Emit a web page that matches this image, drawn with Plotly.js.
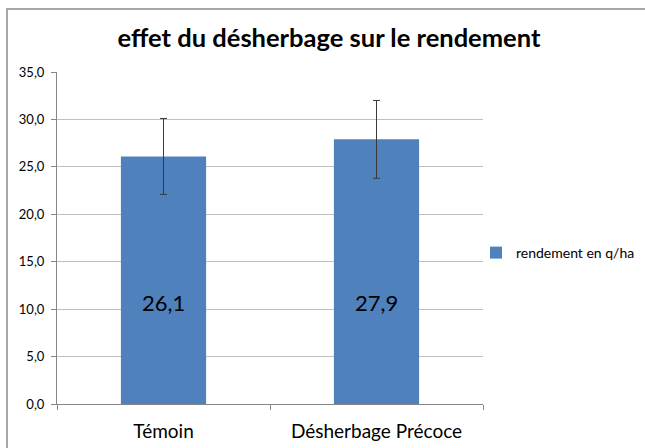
<!DOCTYPE html>
<html>
<head>
<meta charset="utf-8">
<script src="https://cdn.plot.ly/plotly-3.0.1.min.js"></script>
<style>
  html, body { margin: 0; padding: 0; background: #ffffff; }
  #wrap { position: relative; width: 645px; height: 448px; overflow: hidden; }
  #chart { position: absolute; left: 0; top: 0; width: 645px; height: 448px; }
  #frame { position: absolute; left: 6px; top: 8px; width: 700px; height: 500px;
           border-left: 2px solid #a8a8a8; border-top: 2px solid #a8a8a8; pointer-events: none; }
</style>
</head>
<body>
<div id="wrap">
  <div id="chart"></div>
  <div id="frame"></div>
</div>
<script>
// Data
const categories = ["Témoin", "Désherbage Précoce"];
const rendement = [26.1, 27.9];
const erreur = [4.0, 4.1];
const labels = ["26,1", "27,9"];
const seriesName = "rendement en q/ha";
const titleText = "effet du désherbage sur le rendement";

const barTrace = {
  type: "bar",
  x: categories,
  y: rendement,
  name: seriesName,
  marker: { color: "#4f81bd" },
  error_y: { type: "data", array: erreur, visible: true, color: "#3a3a3a", thickness: 1, width: 3.5 },
  hoverinfo: "none"
};

// value labels placed inside the bars, at a common level derived from the data
const labelLevel = Math.min(...rendement) * 0.41;
const annotations = categories.map((c, i) => ({
  x: c, y: labelLevel, xref: "x", yref: "y",
  text: labels[i], showarrow: false,
  font: { family: "Lato, 'Open Sans', sans-serif", size: 22, color: "#000000" }
}));

const layout = {
  width: 645, height: 448,
  paper_bgcolor: "#ffffff", plot_bgcolor: "#ffffff",
  margin: { l: 57, r: 162, t: 72, b: 44, autoexpand: false },
  separators: ", ",
  font: { family: "Lato, 'Open Sans', sans-serif", color: "#000000" },
  title: {
    text: "<b>" + titleText + "</b>",
    font: { family: "Lato, 'Open Sans', sans-serif", size: 25.5, color: "#000000" },
    x: 329 / 645, xref: "container", xanchor: "center",
    y: 1 - 38 / 448, yref: "container", yanchor: "middle"
  },
  bargap: 0.6,
  showlegend: true,
  legend: {
    xref: "container", yref: "container",
    x: 476 / 645, xanchor: "left", y: 1 - 253 / 448, yanchor: "middle",
    font: { size: 14, color: "#000000" },
    itemwidth: 30, bgcolor: "rgba(0,0,0,0)"
  },
  xaxis: {
    type: "category",
    showgrid: false,
    showline: true, linecolor: "#868686", linewidth: 1,
    ticks: "outside", tickson: "boundaries", ticklen: 5, tickcolor: "#868686",
    tickfont: { size: 19, color: "#000000" },
    ticklabelstandoff: 10
  },
  yaxis: {
    range: [0, 35], dtick: 5, tick0: 0,
    tickformat: ".1f",
    showgrid: true, gridcolor: "#bfbfbf", gridwidth: 1,
    showline: true, linecolor: "#868686", linewidth: 1,
    ticks: "outside", ticklen: 5, tickcolor: "#868686",
    tickfont: { size: 13, color: "#000000" },
    zeroline: false,
    ticklabelstandoff: 4
  },
  annotations: annotations
};

Plotly.newPlot("chart", [barTrace], layout, { displayModeBar: false, staticPlot: true });
</script>
</body>
</html>
